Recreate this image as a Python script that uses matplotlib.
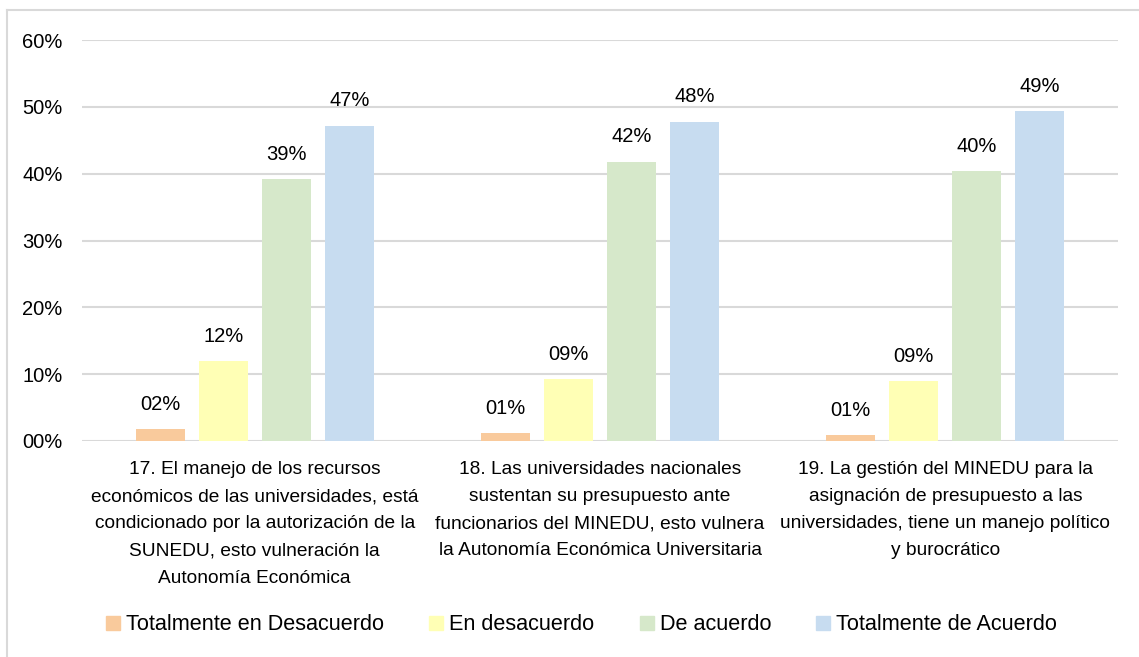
"""
Barras agrupadas: nivel de acuerdo por pregunta (17-19)
"""
import numpy as np
import matplotlib.pyplot as plt
from matplotlib.lines import Line2D

plt.rcParams["font.family"] = ["Liberation Sans", "DejaVu Sans"]

preguntas = [
    "17. El manejo de los recursos\neconómicos de las universidades, está\n"
    "condicionado por la autorización de la\nSUNEDU, esto vulneración la\n"
    "Autonomía Económica",
    "18. Las universidades nacionales\nsustentan su presupuesto ante\n"
    "funcionarios del MINEDU, esto vulnera\nla Autonomía Económica Universitaria",
    "19. La gestión del MINEDU para la\nasignación de presupuesto a las\n"
    "universidades, tiene un manejo político\ny burocrático",
]
series = ["Totalmente en Desacuerdo", "En desacuerdo", "De acuerdo",
          "Totalmente de Acuerdo"]
tot_desacuerdo = [0.018, 0.012, 0.009]
desacuerdo = [0.120, 0.093, 0.090]
de_acuerdo = [0.392, 0.418, 0.404]
tot_acuerdo = [0.472, 0.478, 0.494]
colores = ["#F9CA9C", "#FFFFB5", "#D6E8CA", "#C7DCF0"]

valores = [tot_desacuerdo, desacuerdo, de_acuerdo, tot_acuerdo]

fig = plt.figure(figsize=(11.39, 6.57), dpi=100)
ax = fig.add_axes([0.072, 0.3288, 0.9096, 0.6102])

x = np.arange(len(preguntas))
paso = 0.1825
ancho = 0.142
for i, (vals, col) in enumerate(zip(valores, colores)):
    pos = x + (i - 1.5) * paso
    bars = ax.bar(pos, vals, width=ancho, color=col, zorder=2)
    for b, v in zip(bars, vals):
        ax.annotate(f"{v * 100:02.0f}%", (b.get_x() + b.get_width() / 2, v),
                    xytext=(0, 11), textcoords="offset points",
                    ha="center", va="bottom", fontsize=14.5)

ax.set_xlim(-0.5, len(preguntas) - 0.5)
ax.set_ylim(0, 0.6)
ax.set_yticks(np.arange(0, 0.61, 0.1))
ax.set_yticklabels([f"{t * 100:02.0f}%" for t in np.arange(0, 0.61, 0.1)])
ax.tick_params(axis="y", length=0, pad=14, labelsize=14.5)
ax.set_xticks([])
ax.grid(axis="y", color="#D9D9D9", linewidth=1.5, zorder=0)
for s in ax.spines.values():
    s.set_visible(False)

# etiquetas de categoría
for xi, txt in zip(x, preguntas):
    ax.text(xi, -0.03, txt, ha="center", va="top", fontsize=13.8,
            linespacing=1.78)

handles = [Line2D([], [], marker="s", linestyle="none", markersize=10,
                  markerfacecolor=c, markeredgecolor=c) for c in colores]
fig.legend(handles, series, loc="center", bbox_to_anchor=(0.51, 0.049),
           ncol=4, frameon=False, fontsize=15.6, handletextpad=0.2,
           columnspacing=2.0, handlelength=0.8)

# marco del gráfico (solo borde superior e izquierdo visibles)
fig.add_artist(Line2D([7 / 1139, 1], [1 - 10 / 657, 1 - 10 / 657],
                      transform=fig.transFigure, color="#D9D9D9", lw=1.5))
fig.add_artist(Line2D([7 / 1139, 7 / 1139], [0, 1 - 10 / 657],
                      transform=fig.transFigure, color="#D9D9D9", lw=1.5))

fig.savefig("out.png", dpi=100)
